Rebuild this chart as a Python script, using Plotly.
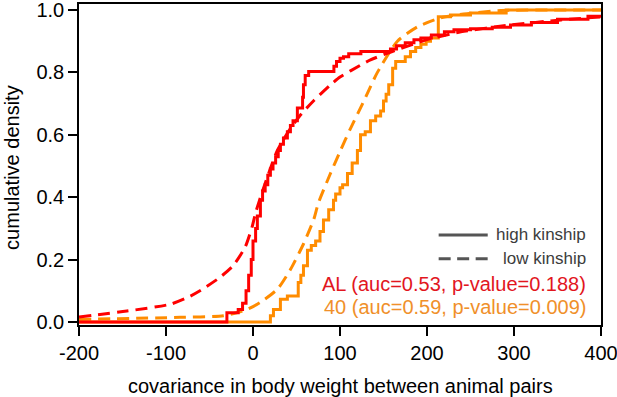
import plotly.graph_objects as go

# ---- data ----
# AL, high kinship: empirical CDF (step)
x_al_high = [-200, -30, -17, -12, -8, -5, -2, 0, 3, 5, 8.5, 11, 14, 17, 20, 23, 26, 29, 31.5, 35,
             39.5, 43, 46, 51, 57, 58, 60, 64, 93, 96, 100, 104, 110, 124, 158, 165, 175, 185, 193,
             205, 220, 231, 250, 275, 296, 320, 350, 385, 400]
y_al_high = [0, 0.03, 0.04, 0.06, 0.10, 0.15, 0.20, 0.26, 0.30, 0.34, 0.39, 0.42, 0.44, 0.47, 0.49,
             0.51, 0.53, 0.55, 0.57, 0.59, 0.61, 0.63, 0.645, 0.686, 0.72, 0.76, 0.79, 0.803, 0.82,
             0.835, 0.845, 0.85, 0.86, 0.867, 0.875, 0.885, 0.895, 0.905, 0.91, 0.92, 0.93, 0.937,
             0.94, 0.945, 0.952, 0.96, 0.97, 0.98, 0.98]

# AL, low kinship: smooth CDF
x_al_low = [-200, -145, -95, -72, -61, -38, -23, -9, -1, 3, 11, 28, 43, 55, 70, 89, 100, 112, 135,
            160, 200, 239, 296, 354, 400]
y_al_low = [0.016, 0.035, 0.057, 0.083, 0.10, 0.143, 0.18, 0.24, 0.305, 0.35, 0.42, 0.55, 0.62,
            0.665, 0.71, 0.76, 0.785, 0.805, 0.84, 0.867, 0.905, 0.93, 0.952, 0.968, 0.978]

# 40, high kinship: empirical CDF (step)
x_40_high = [-200, 20, 23.5, 31.5, 39.5, 52, 55, 58, 62.6, 67, 72, 77, 81, 87, 92.5, 95, 100, 103,
             108.6, 114, 120, 123.6, 129, 135, 141, 146.7, 150, 153, 156, 160.5, 164, 175, 181, 187,
             193, 199, 204, 213, 227, 250, 291, 400]
y_40_high = [0, 0.02, 0.04, 0.073, 0.083, 0.127, 0.15, 0.18, 0.23, 0.245, 0.26, 0.29, 0.327, 0.36,
             0.39, 0.41, 0.43, 0.44, 0.476, 0.51, 0.55, 0.60, 0.61, 0.645, 0.66, 0.676, 0.708, 0.73,
             0.76, 0.813, 0.835, 0.85, 0.867, 0.88, 0.89, 0.90, 0.91, 0.978, 0.984, 0.99, 1.0, 1.0]

# 40, low kinship: smooth CDF
x_40_low = [-200, -84, -34, -7, 8.5, 28, 43, 58, 70, 75, 89, 100.6, 112, 126, 143, 166, 189, 216,
            242, 285, 400]
y_40_low = [0.008, 0.015, 0.02, 0.04, 0.063, 0.105, 0.168, 0.25, 0.33, 0.38, 0.476, 0.55, 0.62,
            0.70, 0.80, 0.90, 0.946, 0.975, 0.987, 0.998, 1.0]

x_ticks = [-200, -100, 0, 100, 200, 300, 400]
x_ticklabels = ["-200", "-100", "0", "100", "200", "300", "400"]
y_ticks = [0.0, 0.2, 0.4, 0.6, 0.8, 1.0]
y_ticklabels = ["0.0", "0.2", "0.4", "0.6", "0.8", "1.0"]

x_title = "covariance in body weight between animal pairs"
y_title = "cumulative density"
kinship_labels = ["high kinship", "low kinship"]
group_labels = ["AL (auc=0.53, p-value=0.188)", "40 (auc=0.59, p-value=0.009)"]

# ---- styles ----
RED = "rgb(255,0,0)"
ORANGE = "rgb(255,140,0)"
RED_TXT = "rgb(226,22,30)"
ORANGE_TXT = "rgb(240,144,42)"
GRAY = "rgb(85,85,85)"
DASH = "12px,7px"
FONT = "Liberation Sans, Arial, Helvetica, sans-serif"

fig = go.Figure()
fig.add_trace(go.Scatter(x=x_40_low, y=y_40_low, mode="lines",
                         line=dict(color=ORANGE, width=3, dash=DASH, shape="spline", smoothing=0.6)))
fig.add_trace(go.Scatter(x=x_40_high, y=y_40_high, mode="lines",
                         line=dict(color=ORANGE, width=3, shape="hv")))
fig.add_trace(go.Scatter(x=x_al_low, y=y_al_low, mode="lines",
                         line=dict(color=RED, width=3, dash=DASH, shape="spline", smoothing=0.6)))
fig.add_trace(go.Scatter(x=x_al_high, y=y_al_high, mode="lines",
                         line=dict(color=RED, width=3, shape="hv")))

axis_common = dict(ticks="outside", ticklen=9, tickwidth=1.5, tickcolor="black",
                   showline=True, linecolor="black", linewidth=1.5, mirror=True,
                   showgrid=False, zeroline=False, automargin=False,
                   ticklabeloverflow="allow",
                   tickfont=dict(size=20, color="black", family=FONT))

fig.update_xaxes(range=[-200, 400], tickvals=x_ticks, ticktext=x_ticklabels, **axis_common)
fig.update_yaxes(range=[-0.0096, 1.0192], tickvals=y_ticks, ticktext=y_ticklabels, **axis_common)

# axis titles
fig.add_annotation(x=0.5, xref="paper", y=-0.19, yref="paper", text=x_title, showarrow=False,
                   xanchor="center", yanchor="middle", font=dict(size=20, color="black", family=FONT))
fig.add_annotation(x=-0.128, xref="paper", y=0.49, yref="paper", text=y_title, showarrow=False,
                   textangle=-90, xanchor="center", yanchor="middle",
                   font=dict(size=20, color="black", family=FONT))

# legend sample lines (in paper x / data y)
lx0, lx1 = 0.689, 0.783
fig.add_shape(type="line", xref="paper", yref="y", x0=lx0, x1=lx1, y0=0.279, y1=0.279,
              line=dict(color=GRAY, width=3))
fig.add_shape(type="line", xref="paper", yref="y", x0=lx0, x1=lx1, y0=0.203, y1=0.203,
              line=dict(color=GRAY, width=3, dash="12px,6.5px"))

tx = 0.975
fig.add_annotation(x=tx, xref="paper", y=0.279, yref="y", text=kinship_labels[0], showarrow=False,
                   xanchor="right", yanchor="middle", font=dict(size=17, color="rgb(60,60,60)", family=FONT))
fig.add_annotation(x=tx, xref="paper", y=0.203, yref="y", text=kinship_labels[1], showarrow=False,
                   xanchor="right", yanchor="middle", font=dict(size=17, color="rgb(60,60,60)", family=FONT))
fig.add_annotation(x=tx, xref="paper", y=0.122, yref="y", text=group_labels[0], showarrow=False,
                   xanchor="right", yanchor="middle", font=dict(size=20, color=RED_TXT, family=FONT))
fig.add_annotation(x=tx, xref="paper", y=0.048, yref="y", text=group_labels[1], showarrow=False,
                   xanchor="right", yanchor="middle", font=dict(size=20, color=ORANGE_TXT, family=FONT))

fig.update_layout(width=617, height=397, margin=dict(l=79, r=16, t=4, b=72),
                  plot_bgcolor="white", paper_bgcolor="white", showlegend=False,
                  font=dict(family=FONT, size=20, color="black"))

fig.write_html("out.html", config={"displayModeBar": False},
               post_script="document.body.style.margin='0px';")
